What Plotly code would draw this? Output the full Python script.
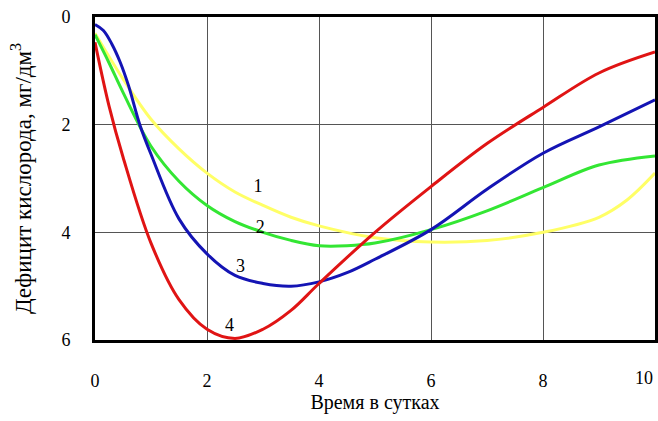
import plotly.graph_objects as go

# Curve 1 (yellow)
x1 = [0, 0.5, 1, 1.5, 2, 2.5, 3, 3.5, 4, 5, 6, 7, 8, 9, 9.5, 10]
y1 = [0.3, 1.15, 1.9, 2.45, 2.9, 3.25, 3.5, 3.72, 3.88, 4.1, 4.18, 4.15, 4.0, 3.72, 3.4, 2.9]
# Curve 2 (green)
x2 = [0, 0.25, 0.5, 1, 1.5, 2, 2.5, 3, 3.5, 4, 4.5, 5, 6, 7, 8, 9, 10]
y2 = [0.33, 0.85, 1.4, 2.4, 3.05, 3.5, 3.8, 4.0, 4.15, 4.25, 4.25, 4.2, 3.95, 3.6, 3.17, 2.75, 2.58]
# Curve 3 (blue)
x3 = [0, 0.15, 0.3, 0.45, 0.6, 0.8, 1, 1.5, 2, 2.5, 3, 3.5, 4, 4.5, 5, 6, 7, 8, 9, 10]
y3 = [0.14, 0.25, 0.5, 0.84, 1.28, 2.0, 2.55, 3.75, 4.4, 4.8, 4.95, 5.0, 4.92, 4.75, 4.5, 3.95, 3.2, 2.53, 2.04, 1.54]
# Curve 4 (red)
x4 = [0, 0.25, 0.5, 1, 1.5, 2, 2.5, 3, 3.5, 4, 5, 6, 7, 8, 9, 10]
y4 = [0.47, 1.65, 2.6, 4.2, 5.25, 5.8, 5.97, 5.8, 5.45, 4.95, 4.0, 3.15, 2.35, 1.68, 1.04, 0.65]

labels = ["1", "2", "3", "4"]
label_x = [2.91, 2.95, 2.6, 2.4]
label_y = [3.16, 3.92, 4.65, 5.74]

x_ticks = [0, 2, 4, 6, 8, 10]
y_ticks = [0, 2, 4, 6]

SERIF = "'Liberation Serif', 'Times New Roman', Times, serif"

fig = go.Figure()
for xs, ys, col in [(x1, y1, "#ffff66"), (x2, y2, "#33e633"), (x3, y3, "#1414b4"), (x4, y4, "#e01414")]:
    fig.add_trace(go.Scatter(x=xs, y=ys, mode="lines",
                             line=dict(color=col, width=3, shape="spline", smoothing=1.0),
                             showlegend=False, hoverinfo="skip"))

fig.add_trace(go.Scatter(x=label_x, y=label_y, mode="text", text=labels,
                         textfont=dict(family=SERIF, size=18, color="black"),
                         showlegend=False, hoverinfo="skip"))

fig.update_layout(
    width=658, height=421,
    margin=dict(l=95, r=3, t=17, b=81),
    paper_bgcolor="white", plot_bgcolor="white",
    font=dict(family=SERIF, color="black"),
)
# last x tick label sits left of the axis end so it stays inside the page
fig.add_annotation(x=x_ticks[-1], y=0, xref="x", yref="paper", text=str(x_ticks[-1]), showarrow=False,
                   xanchor="right", yanchor="top", yshift=-26, xshift=0,
                   font=dict(family=SERIF, size=18, color="black"))

fig.update_xaxes(range=[0, 10], tickvals=x_ticks[:-1], showgrid=True,
                 gridcolor="#555", gridwidth=1, automargin=False,
                 showline=True, linecolor="black", linewidth=3, mirror=True,
                 zeroline=False, ticks="", ticklabelstandoff=22,
                 tickfont=dict(size=18, family=SERIF),
                 title=dict(text="Время в сутках", font=dict(size=20, family=SERIF), standoff=5))
fig.update_yaxes(range=[6, 0], tickvals=y_ticks, showgrid=True, gridcolor="#555", gridwidth=1,
                 automargin=False,
                 showline=True, linecolor="black", linewidth=3, mirror=True,
                 zeroline=False, ticks="", ticklabelstandoff=18,
                 tickfont=dict(size=18, family=SERIF),
                 title=dict(text="Дефицит кислорода, мг/дм<sup>3</sup>", font=dict(size=23, family=SERIF), standoff=24))

fig.write_html("out.html", config={"displayModeBar": False},
               post_script="document.body.style.margin='0';document.body.style.overflow='hidden';")
